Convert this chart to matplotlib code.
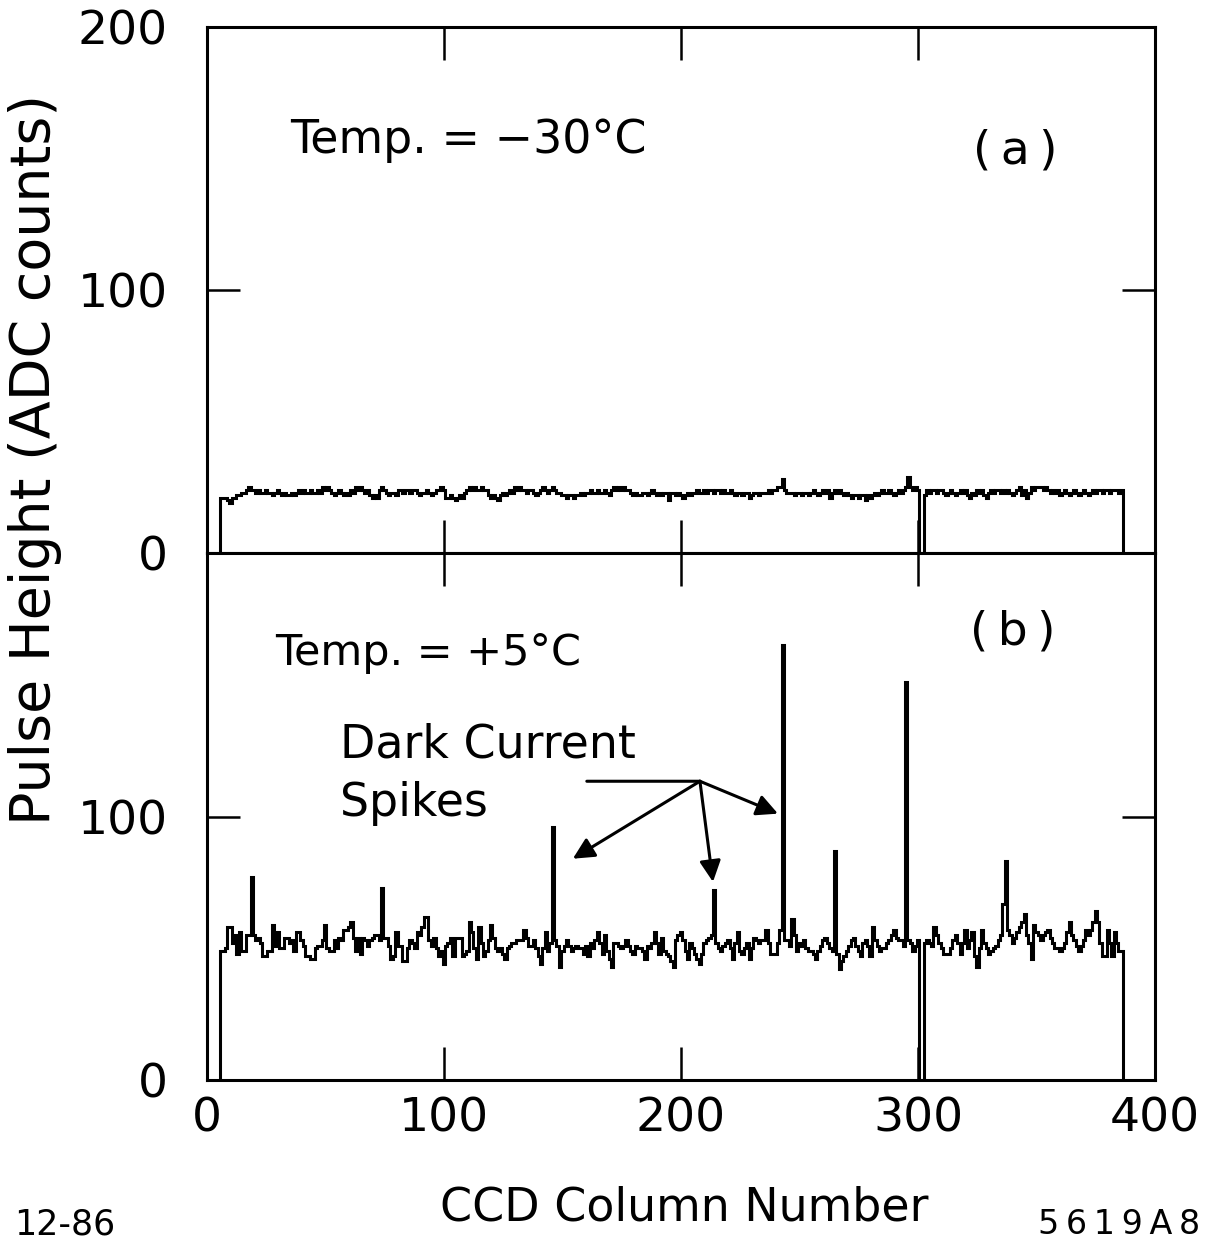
import numpy as np
import matplotlib.pyplot as plt

# CCD columns (first to last live column)
columns = np.arange(6, 387)

# panel (a): -30 C, pulse height per column (ADC counts)
cold = [
    21, 21, 21, 20, 19, 21, 21, 22, 22, 23,
    23, 24, 25, 24, 24, 23, 24, 23, 23, 24,
    23, 23, 22, 23, 24, 23, 22, 23, 22, 22,
    23, 22, 23, 24, 23, 24, 23, 23, 24, 23,
    23, 24, 23, 25, 24, 25, 24, 23, 22, 23,
    24, 23, 22, 23, 22, 24, 23, 25, 24, 25,
    24, 23, 24, 22, 21, 22, 21, 24, 25, 24,
    23, 22, 23, 23, 22, 24, 24, 23, 24, 24,
    23, 24, 24, 23, 22, 23, 23, 24, 23, 22,
    23, 24, 24, 25, 24, 21, 21, 22, 21, 20,
    21, 22, 21, 23, 24, 25, 24, 25, 24, 24,
    25, 24, 24, 22, 21, 22, 21, 20, 22, 23,
    22, 23, 24, 23, 25, 24, 25, 24, 24, 23,
    24, 24, 23, 22, 23, 24, 25, 24, 23, 24,
    25, 24, 23, 23, 22, 22, 21, 22, 22, 21,
    22, 22, 23, 22, 23, 23, 24, 23, 23, 24,
    23, 23, 24, 23, 22, 24, 25, 24, 25, 24,
    25, 24, 24, 23, 22, 23, 22, 22, 23, 23,
    22, 23, 24, 23, 22, 23, 22, 23, 23, 20,
    23, 23, 22, 23, 22, 21, 22, 23, 22, 23,
    23, 24, 23, 23, 24, 23, 24, 24, 23, 24,
    24, 23, 24, 23, 23, 24, 23, 22, 23, 23,
    22, 23, 23, 21, 22, 23, 23, 22, 23, 23,
    23, 24, 23, 24, 24, 25, 25, 28, 24, 23,
    23, 23, 22, 23, 23, 22, 23, 23, 22, 23,
    24, 23, 22, 23, 24, 23, 24, 21, 23, 24,
    23, 24, 23, 22, 23, 22, 21, 22, 22, 21,
    22, 22, 20, 22, 21, 22, 23, 22, 23, 24,
    23, 23, 24, 23, 22, 23, 24, 23, 24, 25,
    29, 25, 24, 25, 24, 0, 0, 22, 24, 23,
    24, 24, 23, 24, 24, 23, 22, 23, 24, 23,
    22, 23, 24, 23, 24, 22, 21, 23, 22, 24,
    23, 24, 22, 21, 23, 24, 23, 24, 24, 23,
    24, 23, 24, 23, 22, 23, 24, 25, 22, 24,
    21, 23, 25, 24, 25, 25, 25, 24, 25, 24,
    23, 24, 23, 24, 22, 23, 24, 23, 22, 23,
    24, 23, 22, 23, 24, 23, 22, 23, 24, 23,
    24, 24, 23, 24, 24, 23, 24, 24, 24, 23, 24,
]

# panel (b): +5 C, with the dark current spikes
warm = [
    49, 49, 50, 58, 58, 52, 55, 48, 56, 49,
    49, 55, 55, 77, 55, 53, 54, 52, 47, 47,
    49, 49, 59, 51, 56, 50, 50, 54, 54, 52,
    53, 49, 56, 56, 53, 51, 47, 47, 46, 46,
    50, 51, 51, 53, 59, 50, 49, 49, 53, 50,
    54, 53, 57, 57, 58, 60, 54, 49, 54, 48,
    54, 53, 51, 53, 54, 55, 55, 53, 73, 54,
    54, 51, 46, 47, 56, 51, 51, 45, 45, 50,
    53, 52, 50, 56, 55, 58, 62, 62, 53, 51,
    54, 50, 47, 49, 44, 51, 52, 54, 47, 54,
    54, 54, 47, 48, 49, 60, 56, 50, 46, 58,
    52, 47, 49, 53, 59, 54, 50, 49, 50, 48,
    46, 50, 51, 52, 52, 53, 53, 53, 57, 54,
    51, 51, 53, 50, 47, 44, 50, 56, 49, 52,
    96, 53, 51, 43, 49, 51, 53, 51, 49, 50,
    51, 50, 50, 48, 51, 47, 52, 50, 53, 56,
    52, 48, 55, 49, 46, 43, 52, 52, 51, 50,
    51, 53, 51, 49, 48, 51, 50, 50, 49, 46,
    51, 50, 52, 56, 52, 48, 54, 49, 48, 47,
    45, 43, 53, 55, 56, 53, 49, 46, 52, 50,
    48, 46, 44, 48, 52, 53, 54, 55, 72, 52,
    50, 49, 51, 52, 53, 50, 46, 52, 56, 49,
    48, 50, 52, 46, 50, 54, 53, 52, 53, 53,
    57, 52, 48, 48, 48, 52, 57, 165, 53, 53,
    51, 61, 55, 49, 52, 51, 53, 50, 49, 49,
    48, 46, 49, 51, 53, 54, 52, 50, 49, 87,
    48, 42, 45, 47, 49, 51, 53, 54, 51, 49,
    47, 52, 53, 51, 47, 58, 53, 51, 49, 50,
    50, 52, 53, 55, 57, 54, 53, 53, 51, 151,
    53, 52, 49, 51, 53, 0, 0, 52, 53, 52,
    51, 58, 55, 52, 50, 48, 48, 48, 50, 53,
    55, 52, 48, 52, 57, 50, 53, 56, 47, 43,
    50, 57, 52, 50, 48, 49, 50, 51, 53, 55,
    67, 83, 57, 55, 52, 54, 56, 58, 60, 63,
    55, 52, 46, 59, 56, 55, 53, 55, 56, 57,
    54, 52, 50, 50, 49, 50, 52, 56, 60, 55,
    53, 51, 49, 51, 53, 57, 55, 57, 60, 64,
    60, 52, 47, 47, 57, 52, 47, 56, 52, 49, 49,
]

xticks = [0, 100, 200, 300, 400]
yticks = [0, 100, 200]
spike_cols = [146, 214, 243]

edges = np.append(columns - 0.5, columns[-1] + 0.5)
cold = np.array(cold)
warm = np.array(warm)

fig = plt.figure(figsize=(12.16, 12.42), dpi=100)
ax1 = fig.add_axes([0.170, 0.5547, 0.780, 0.4236])
ax2 = fig.add_axes([0.170, 0.1304, 0.780, 0.4243])

for ax in (ax1, ax2):
    ax.set_xlim(0, 400)
    ax.set_ylim(0, 200)
    ax.set_xticks(xticks)
    ax.set_yticks(yticks)
    ax.tick_params(direction="in", length=24, width=1.8, top=True, right=True,
                   labelsize=34)
    ax.tick_params(axis="y", pad=28)
    ax.tick_params(axis="x", pad=12)
    for s in ax.spines.values():
        s.set_linewidth(2.2)

ax1.tick_params(labelbottom=False)
ax2.set_yticklabels(["0", "100", ""])

ax1.stairs(cold, edges, baseline=0, color="black", lw=2.2)
ax2.stairs(warm, edges, baseline=0, color="black", lw=2.2)

ax1.text(35, 157, "Temp. = \u221230\u00b0C", fontsize=33, va="center")
ax1.text(341, 153, "(\u2009a\u2009)", fontsize=34, va="center", ha="center")
ax2.text(28.7, 162, "Temp. = +5\u00b0C", fontsize=31, va="center")
ax2.text(340, 170, "(\u2009b\u2009)", fontsize=34, va="center", ha="center")
ax2.text(56, 127, "Dark Current", fontsize=33, va="center")
ax2.text(56, 105, "Spikes", fontsize=33, va="center")

# pointer lines to the spikes
hub = (208, 113.4)
ax2.annotate("", xy=hub, xytext=(160.3, 113.4),
             arrowprops=dict(arrowstyle="-", lw=2.2, color="black",
                             shrinkA=0, shrinkB=0))
tips = [(154.4, 84.0), (213.5, 75.2), (240.9, 101.1)]
for c, tip in zip(spike_cols, tips):
    ax2.annotate("", xy=tip, xytext=hub,
                 arrowprops=dict(arrowstyle="-|>", lw=2.2, color="black",
                                 mutation_scale=32, shrinkA=0, shrinkB=0))

fig.text(0.029, 0.630, "Pulse Height (ADC counts)", rotation=90,
         fontsize=40, va="center", ha="center")
fig.text(0.563, 0.0274, "CCD Column Number", fontsize=33, va="center",
         ha="center")
fig.text(0.012, 0.0137, "12-86", fontsize=25, va="center", ha="left")
fig.text(0.987, 0.0137, "5\u20096\u20091\u20099\u2009A\u20098", fontsize=24,
         va="center", ha="right")

fig.savefig("out.png", dpi=100)
